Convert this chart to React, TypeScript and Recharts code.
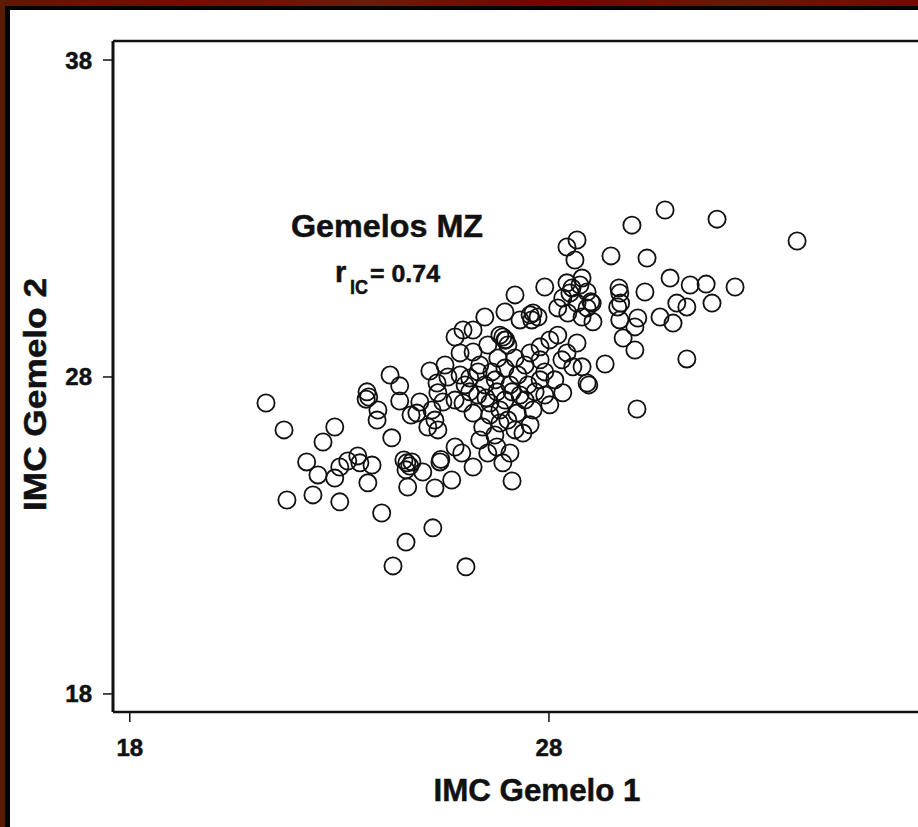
import { ScatterChart, Scatter, XAxis, YAxis, ReferenceLine } from 'recharts'

const FONT = "'Liberation Sans', Arial, Helvetica, sans-serif"

// axis ranges (BMI units) and tick marks
const X_MIN = 17.6
const X_MAX = 37.83
const Y_MIN = 17.43
const Y_MAX = 38.6
const xTicks = [18, 28]
const yTicks = [18, 28, 38]

const xTitle = 'IMC Gemelo 1'
const yTitle = 'IMC Gemelo 2'
const groupName = 'Gemelos MZ'
const iccValue = '0.74'

// twin 1 BMI (x) and twin 2 BMI (y)
const twin1 = [
  21.25, 21.68, 22.89, 22.61, 22.22, 22.49, 22.89, 23.01, 23.2, 23.44, 23.49, 23.78, 23.68, 21.75, 22.37,
  23.01, 24.01, 24.59, 24.28, 25.23, 26.02, 23.66, 23.7, 23.64, 23.92, 23.9, 24.21, 24.44, 24.44, 24.71,
  24.25, 25.16, 24.61, 24.54, 24.68, 24.59, 24.73, 24.63, 24.99, 25.28, 25.4, 24.92, 25.21, 25.28, 25.11,
  25.35, 25.47, 24.85, 25.33, 25.35,
  25.76, 25.95, 26.19, 25.88, 26.19, 25.59, 26.47, 26.95, 27.19, 27.62, 27.74, 27.59, 27.31, 26.9, 26.97,
  26.83, 27.02, 27.9, 27.55, 27.79, 28.02, 28.21, 28.31, 28.57, 28.67, 28.43, 28.91, 28.33, 28.02, 27.62,
  27.24, 27.38, 26.83, 26.42, 26.19, 25.95, 26.76, 26.54, 27.07, 26.9, 26.19, 25.92, 25.76, 25.42, 25.68,
  27.12,
  26.35, 26.64, 26.95, 27.26, 27.5, 26.47, 26.76, 27.07, 26.11, 26.3, 26.59, 26.95, 27.31, 27.67, 27.9,
  27.79, 26.78, 27.19, 27.43, 26.54, 26.11, 25.88, 27.02, 26.59, 27.9, 28.14, 25.52,
  26.31, 26.72, 27.12, 27.43, 26.5, 26.83, 27.19, 27.55, 26.71, 26.35, 26.95, 27.55, 26.0, 25.76, 27.79,
  28.43, 28.67, 28.62, 28.79, 28.43, 28.91, 29.03, 28.67, 28.33, 28.5, 28.21, 28.45, 28.79, 29.05, 28.74,
  28.55, 29.0,
  30.77, 32.01, 29.98, 33.92, 29.48, 30.34, 30.89, 31.37, 31.75, 32.44, 30.29, 29.69, 29.67, 29.71, 29.64,
  31.89, 31.05, 31.29, 30.65, 30.96, 30.12, 30.05, 29.77, 30.05, 31.29, 29.34, 28.95, 30.1, 28.79, 28.91,
  29.69,
]

const twin2 = [
  27.18, 26.33, 26.42, 25.95, 25.32, 24.91, 24.81, 25.16, 25.35, 25.51, 25.29, 25.22, 24.66, 24.12, 24.28,
  24.06, 23.71, 22.79, 22.04, 23.24, 22.01, 27.53, 27.37, 27.3, 26.96, 26.64, 28.06, 27.72, 27.24, 26.8,
  26.08, 28.19, 25.29, 25.38, 25.19, 25.07, 25.32, 24.53, 25.0, 24.5, 25.32, 27.21, 26.96, 26.64, 26.42,
  26.33, 27.21, 26.86, 27.81, 27.5,
  29.26, 29.48, 29.48, 28.76, 28.79, 28.0, 29.89, 30.05, 30.59, 30.02, 29.89, 29.8, 29.8, 29.26, 29.17,
  29.32, 29.01, 30.84, 28.76, 28.95, 29.17, 29.32, 28.54, 28.32, 29.07, 28.76, 27.81, 27.5, 27.12, 26.96,
  26.86, 26.23, 26.55, 26.42, 26.86, 27.18, 25.79, 25.6, 25.6, 25.29, 25.16, 25.6, 25.79, 25.4, 24.75,
  24.72,
  28.38, 28.16, 28.28, 28.06, 27.75, 27.75, 27.53, 27.75, 27.97, 27.43, 27.18, 27.27, 27.43, 27.53, 28.16,
  28.54, 28.6, 28.6, 28.38, 29.01, 27.53, 28.06, 26.64, 26.8, 27.43, 27.91, 28.38,
  28.16, 27.91, 27.53, 27.27, 27.34, 26.96, 26.33, 26.49, 26.17, 26.01, 29.17, 29.96, 27.75, 27.27, 27.91,
  32.1, 32.32, 31.69, 31.12, 30.97, 30.68, 30.33, 30.33, 30.49, 30.65, 30.18, 30.02, 29.89, 29.74, 30.9,
  30.81, 30.37,
  33.27, 32.98, 32.79, 32.29, 31.82, 31.75, 31.12, 30.9, 30.93, 30.84, 30.68, 30.65, 30.81, 30.33, 30.21,
  30.33, 30.33, 30.21, 29.89, 29.7, 29.86, 29.58, 29.23, 28.85, 28.57, 28.41, 27.75, 26.99, 28.32, 30.18,
  29.8,
]

const pairs = twin1.map((x, i) => ({ x, y: twin2[i] }))

// heavy bold look of the scanned figure
const textStyle = { fontFamily: FONT, fontWeight: 700, fill: '#111', stroke: '#111', strokeWidth: 0.5 }

function XTick(props: any) {
  const { x, y, payload } = props
  return (
    <text x={x} y={y + 17} textAnchor="middle" fontSize={24} {...textStyle}>
      {payload.value}
    </text>
  )
}

function YTick(props: any) {
  const { x, y, payload } = props
  return (
    <text x={x} y={y + 8.5} textAnchor="end" fontSize={24} {...textStyle}>
      {payload.value}
    </text>
  )
}

function XTitle(props: any) {
  const vb = props.viewBox || { x: 0, y: 0, width: 0 }
  return (
    <text
      x={vb.x + vb.width / 2}
      y={vb.y + 89}
      textAnchor="middle"
      fontSize={32}
      textLength={207}
      lengthAdjust="spacingAndGlyphs"
      {...textStyle}
    >
      {xTitle}
    </text>
  )
}

function YTitle(props: any) {
  const vb = props.viewBox || { x: 0, y: 0, height: 0 }
  const cy = vb.y + vb.height / 2 + 18
  return (
    <text
      transform={`translate(45.5, ${cy}) rotate(-90)`}
      x={0}
      y={0}
      textAnchor="middle"
      fontSize={32}
      textLength={233}
      lengthAdjust="spacingAndGlyphs"
      {...textStyle}
    >
      {yTitle}
    </text>
  )
}

function Ring(props: any) {
  const { cx, cy } = props
  if (cx == null || cy == null) return null
  return <circle cx={cx} cy={cy} r={8.6} fill="none" stroke="#111" strokeWidth={1.8} />
}

export default function App() {
  return (
    <div
      style={{
        position: 'fixed',
        left: 0,
        top: 0,
        width: 918,
        height: 827,
        overflow: 'hidden',
        background: 'linear-gradient(90deg, #5a1c02 0%, #7c0800 20%, #62200a 40%, #7e0000 60%, #5e1e04 80%, #7a0600 100%)',
      }}
    >
      <div style={{ position: 'absolute', left: 5, top: 6, right: 0, bottom: 0, background: '#050302' }} />
      <div style={{ position: 'absolute', left: 10, top: 10, right: 0, bottom: 0, background: '#ffffff' }} />

      <div style={{ position: 'absolute', left: 0, top: 0 }}>
        <ScatterChart width={970} height={827} margin={{ top: 41, right: 9, bottom: 0, left: 0 }}>
          <XAxis
            type="number"
            dataKey="x"
            domain={[X_MIN, X_MAX]}
            ticks={xTicks}
            allowDataOverflow
            height={115}
            tickSize={10}
            tickMargin={17}
            axisLine={{ stroke: '#111', strokeWidth: 2.5 }}
            tickLine={{ stroke: '#111', strokeWidth: 1.5 }}
            tick={<XTick />}
            label={<XTitle />}
          />
          <YAxis
            type="number"
            dataKey="y"
            domain={[Y_MIN, Y_MAX]}
            ticks={yTicks}
            allowDataOverflow
            width={113}
            tickSize={10}
            tickMargin={11}
            axisLine={{ stroke: '#111', strokeWidth: 3 }}
            tickLine={{ stroke: '#111', strokeWidth: 1.5 }}
            tick={<YTick />}
            label={<YTitle />}
          />
          <ReferenceLine y={Y_MAX} stroke="#111" strokeWidth={2.5} />
          <Scatter data={pairs} shape={<Ring />} isAnimationActive={false} />
        </ScatterChart>
      </div>

      <svg width={918} height={827} style={{ position: 'absolute', left: 0, top: 0, pointerEvents: 'none' }}>
        <text x={387} y={237} textAnchor="middle" fontSize={32} textLength={192} lengthAdjust="spacingAndGlyphs" {...textStyle}>
          {groupName}
        </text>
        <text x={335} y={282} fontSize={29} {...textStyle}>
          r
        </text>
        <text x={350} y={294} fontSize={21} textLength={18} lengthAdjust="spacingAndGlyphs" {...textStyle}>
          IC
        </text>
        <text x={370} y={282} fontSize={24} textLength={70} lengthAdjust="spacingAndGlyphs" {...textStyle}>
          {'= ' + iccValue}
        </text>
      </svg>
    </div>
  )
}
